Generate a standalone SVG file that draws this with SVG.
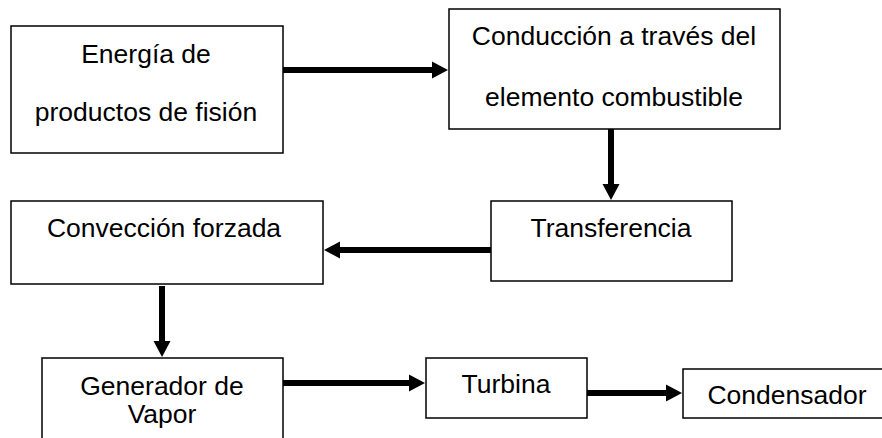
<svg xmlns="http://www.w3.org/2000/svg" width="882" height="438" viewBox="0 0 882 438">
<defs>
<style>
.box{fill:#fff;stroke:#000;stroke-width:1.5}
.t{font-family:"Liberation Sans",Arial,sans-serif;font-size:26.5px;fill:#000;text-anchor:middle}
.c{stroke:#000;stroke-width:6;fill:none}
</style>
<marker id="ah" markerUnits="userSpaceOnUse" markerWidth="17" markerHeight="18" refX="0" refY="8.5" orient="auto" overflow="visible">
<path d="M0,0 L16,8.5 L0,17 z" fill="#000"/>
</marker>
</defs>
<rect width="882" height="438" fill="#fff"/>
<g id="connectors">
<line class="c" x1="283" y1="70" x2="432" y2="70" marker-end="url(#ah)"/>
<line class="c" x1="611" y1="129" x2="611" y2="184" marker-end="url(#ah)"/>
<line class="c" x1="491" y1="250" x2="340" y2="250" marker-end="url(#ah)"/>
<line class="c" x1="162" y1="286" x2="162" y2="341" marker-end="url(#ah)"/>
<line class="c" x1="283" y1="383" x2="409" y2="383" marker-end="url(#ah)"/>
<line class="c" x1="587" y1="393" x2="666" y2="393" marker-end="url(#ah)"/>
</g>
<g id="energia">
<rect class="box" x="11" y="26" width="272" height="127"/>
<text class="t" x="146" y="63">Energía de</text>
<text class="t" x="146" y="121">productos de fisión</text>
</g>
<g id="conduccion">
<rect class="box" x="449" y="9" width="331" height="120"/>
<text class="t" x="614" y="45">Conducción a través del</text>
<text class="t" x="614" y="106">elemento combustible</text>
</g>
<g id="transferencia">
<rect class="box" x="491" y="201" width="241" height="80"/>
<text class="t" x="611" y="237">Transferencia</text>
</g>
<g id="conveccion">
<rect class="box" x="11" y="201" width="312" height="83"/>
<text class="t" x="164" y="237">Convección forzada</text>
</g>
<g id="generador">
<rect class="box" x="42" y="358" width="241" height="90"/>
<text class="t" x="162" y="395">Generador de</text>
<text class="t" x="162" y="423">Vapor</text>
</g>
<g id="turbina">
<rect class="box" x="426" y="358" width="161" height="60"/>
<text class="t" x="506" y="393">Turbina</text>
</g>
<g id="condensador">
<rect class="box" x="683" y="369" width="210" height="49"/>
<text class="t" x="787" y="404">Condensador</text>
</g>
</svg>
